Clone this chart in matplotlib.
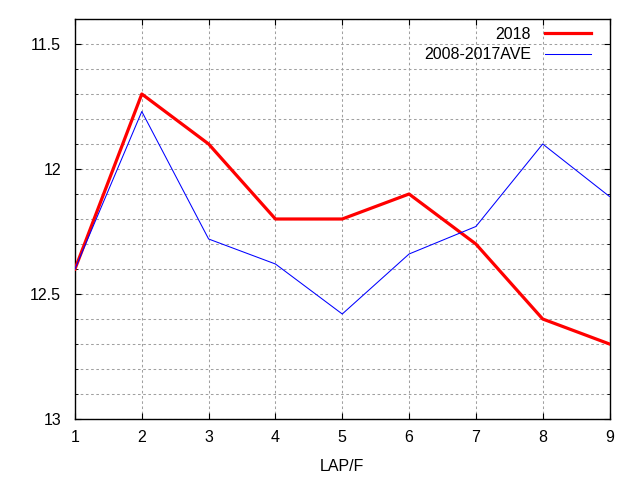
import matplotlib
matplotlib.use("Agg")
import matplotlib.pyplot as plt
from matplotlib.ticker import MultipleLocator

plt.rcParams['font.family'] = ['Liberation Sans', 'DejaVu Sans']

laps = [1, 2, 3, 4, 5, 6, 7, 8, 9]
y2018 = [12.40, 11.70, 11.90, 12.20, 12.20, 12.10, 12.30, 12.60, 12.70]
yave = [12.40, 11.77, 12.28, 12.38, 12.58, 12.34, 12.23, 11.90, 12.11]
ytick_vals = [11.5, 12.0, 12.5, 13.0]
ytick_labels = ['11.5', '12', '12.5', '13']

fig = plt.figure(figsize=(6.4, 4.8), dpi=100)
ax = fig.add_axes([75/640, 61/480, (609.5-75)/640, (419-19)/480])

ax.plot(laps, y2018, color='#ff0000', lw=2.3, label='2018', zorder=3)
ax.plot(laps, yave, color='#0000ff', lw=0.75, label='2008-2017AVE', zorder=3)

ax.set_xlim(1, 9)
ax.set_ylim(13.0, 11.4)
ax.set_xticks(laps)
ax.set_yticks(ytick_vals)
ax.set_yticklabels(ytick_labels)
ax.yaxis.set_minor_locator(MultipleLocator(0.1))

ax.grid(True, which='both', color='#a0a0a0', lw=0.75, linestyle=(0, (2.5, 2.5)))
ax.set_axisbelow(True)
ax.tick_params(which='both', direction='in', top=True, right=True, labelsize=11.5, colors='black')
ax.tick_params(axis='y', which='major', length=4, pad=10)
ax.tick_params(axis='y', which='minor', length=2.5)
ax.tick_params(axis='x', which='major', length=4, pad=8)
for s in ax.spines.values():
    s.set_linewidth(1.0)

ax.set_xlabel('LAP/F', fontsize=11.5, labelpad=10)

leg = ax.legend(loc='upper right', bbox_to_anchor=(591/640, 453/480), bbox_transform=fig.transFigure,
                frameon=False, markerfirst=False, fontsize=11.5, handlelength=2.9,
                handletextpad=0.85, labelspacing=0.33, borderpad=0, borderaxespad=0)

fig.savefig('out.png', dpi=100)
